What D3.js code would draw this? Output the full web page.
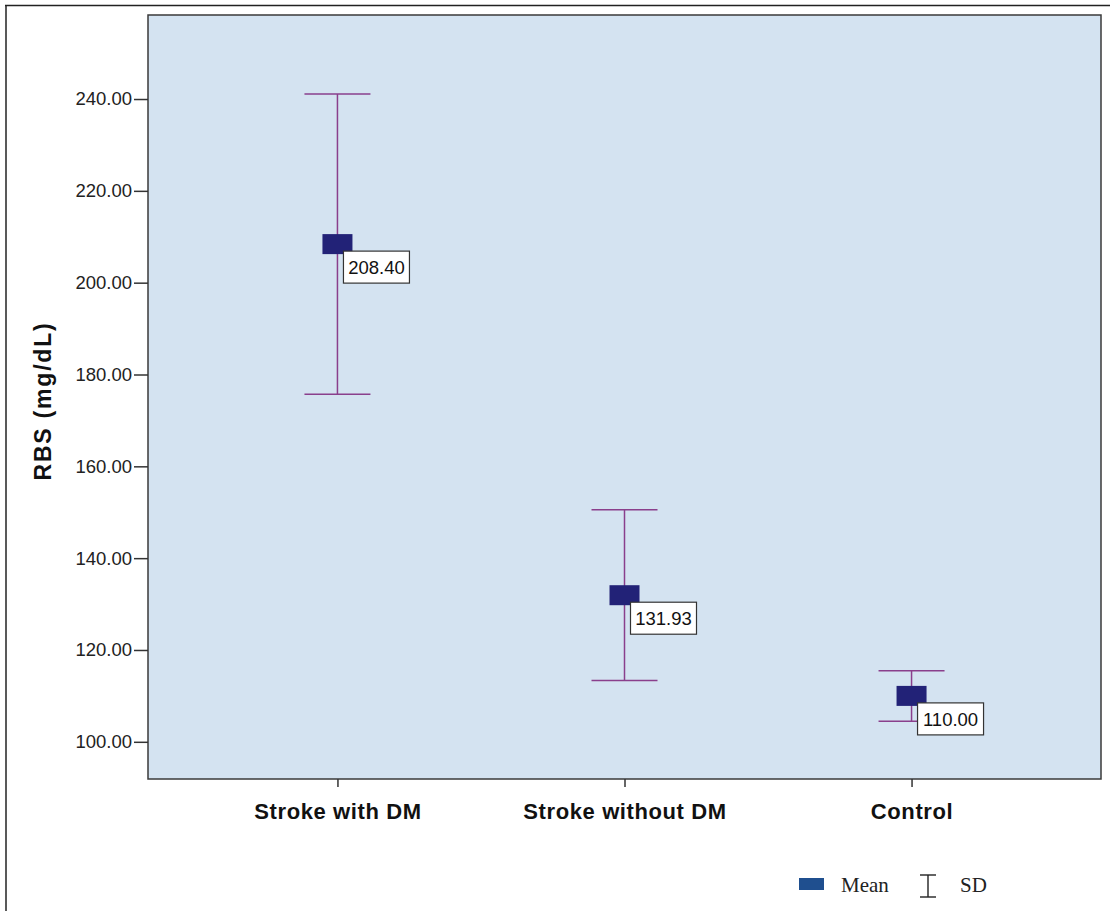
<!DOCTYPE html>
<html>
<head>
<meta charset="utf-8">
<script src="https://cdn.jsdelivr.net/npm/d3@7/dist/d3.min.js"></script>
<style>
  html, body { margin: 0; padding: 0; background: #fff; }
  svg { display: block; }
</style>
</head>
<body>
<svg id="chart" width="1110" height="911"></svg>
<script>
// Group means and standard deviations of random blood sugar
const groups = ["Stroke with DM", "Stroke without DM", "Control"];
const means = [208.40, 131.93, 110.00];
const sds = [32.7, 18.6, 5.5];
const meanLabels = ["208.40", "131.93", "110.00"];
const yTicks = [100, 120, 140, 160, 180, 200, 220, 240];

const svg = d3.select("#chart");
const W = 1110, H = 911;
const plot = { left: 148, top: 15, right: 1101, bottom: 779 };
const sans = "Arial, 'Liberation Sans', sans-serif";

// outer frame
svg.append("line").attr("x1", 5).attr("x2", W).attr("y1", 5.5).attr("y2", 5.5)
  .attr("stroke", "#222").attr("stroke-width", 1.5);
svg.append("line").attr("x1", 6).attr("x2", 6).attr("y1", 5).attr("y2", H)
  .attr("stroke", "#222").attr("stroke-width", 1.5);

const y = d3.scaleLinear().domain([91.9, 258.3]).range([plot.bottom, plot.top]);
const x = d3.scalePoint().domain(groups).range([plot.left, plot.right]).padding(0.66);

// plot background
svg.append("rect")
  .attr("x", plot.left).attr("y", plot.top)
  .attr("width", plot.right - plot.left).attr("height", plot.bottom - plot.top)
  .attr("fill", "#d4e3f1").attr("stroke", "#3a3a3a").attr("stroke-width", 1.5);

// y axis
const yAxis = svg.append("g")
  .attr("transform", `translate(${plot.left},0)`)
  .call(d3.axisLeft(y).tickValues(yTicks).tickFormat(d3.format(".2f")).tickSize(14).tickPadding(2));
yAxis.select(".domain").remove();
yAxis.selectAll(".tick line").attr("stroke", "#333").attr("stroke-width", 1.5);
yAxis.selectAll(".tick text")
  .attr("font-family", sans)
  .attr("font-size", 18.5).attr("fill", "#222");

// x axis
const xAxis = svg.append("g")
  .attr("transform", `translate(0,${plot.bottom})`)
  .call(d3.axisBottom(x).tickSize(8).tickPadding(16));
xAxis.select(".domain").remove();
xAxis.selectAll(".tick line").attr("stroke", "#333").attr("stroke-width", 1.5);
xAxis.selectAll(".tick text")
  .attr("font-family", sans)
  .attr("font-size", 22).attr("font-weight", "bold").attr("fill", "#111")
  .attr("letter-spacing", 0.6);

// y axis title
svg.append("text")
  .attr("transform", `translate(51,401) rotate(-90)`)
  .attr("text-anchor", "middle")
  .attr("font-family", sans)
  .attr("font-size", 23).attr("font-weight", "bold").attr("fill", "#111")
  .attr("letter-spacing", 1.8)
  .text("RBS (mg/dL)");

const barColor = "#8a3f8c";
const capHalf = 33;
const data = groups.map((g, i) => ({ g, m: means[i], sd: sds[i], label: meanLabels[i] }));

const gBars = svg.append("g");
data.forEach(d => {
  const cx = x(d.g);
  const yTop = y(d.m + d.sd), yBot = y(d.m - d.sd);
  gBars.append("line").attr("x1", cx).attr("x2", cx).attr("y1", yTop).attr("y2", yBot)
    .attr("stroke", barColor).attr("stroke-width", 1.5);
  [yTop, yBot].forEach(yy => {
    gBars.append("line").attr("x1", cx - capHalf).attr("x2", cx + capHalf)
      .attr("y1", yy).attr("y2", yy)
      .attr("stroke", barColor).attr("stroke-width", 1.5);
  });
});

// mean markers
data.forEach(d => {
  const cx = x(d.g), cy = y(d.m);
  svg.append("rect").attr("x", cx - 15).attr("y", cy - 10)
    .attr("width", 30).attr("height", 20).attr("fill", "#222277");
});

// value labels
data.forEach(d => {
  const cx = x(d.g), cy = y(d.m);
  const bx = cx + 6, by = cy + 7;
  svg.append("rect").attr("x", bx).attr("y", by).attr("width", 66).attr("height", 32)
    .attr("fill", "#fff").attr("stroke", "#333").attr("stroke-width", 1.2);
  svg.append("text").attr("x", bx + 33).attr("y", by + 23)
    .attr("text-anchor", "middle")
    .attr("font-family", sans)
    .attr("font-size", 18.5).attr("fill", "#111")
    .text(d.label);
});

// legend
const lg = svg.append("g").attr("font-family", "'Liberation Serif', 'Times New Roman', serif")
  .attr("font-size", 21).attr("fill", "#222");
lg.append("rect").attr("x", 799).attr("y", 878).attr("width", 25).attr("height", 12).attr("fill", "#1f4f8f");
lg.append("text").attr("x", 841).attr("y", 892).text("Mean");
const ix = 928;
lg.append("line").attr("x1", ix).attr("x2", ix).attr("y1", 875).attr("y2", 897).attr("stroke", "#222").attr("stroke-width", 1.4);
lg.append("line").attr("x1", ix - 8).attr("x2", ix + 8).attr("y1", 875).attr("y2", 875).attr("stroke", "#222").attr("stroke-width", 1.4);
lg.append("line").attr("x1", ix - 8).attr("x2", ix + 8).attr("y1", 897).attr("y2", 897).attr("stroke", "#222").attr("stroke-width", 1.4);
lg.append("text").attr("x", 960).attr("y", 892).text("SD");
</script>
</body>
</html>
